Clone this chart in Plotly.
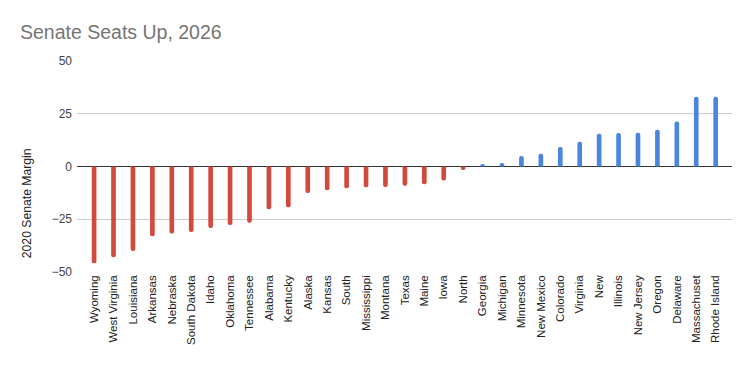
import plotly.graph_objects as go

states = ["Wyoming", "West Virginia", "Louisiana", "Arkansas", "Nebraska", "South Dakota",
          "Idaho", "Oklahoma", "Tennessee", "Alabama", "Kentucky", "Alaska", "Kansas", "South",
          "Mississippi", "Montana", "Texas", "Maine", "Iowa", "North", "Georgia", "Michigan",
          "Minnesota", "New Mexico", "Colorado", "Virginia", "New", "Illinois", "New Jersey",
          "Oregon", "Delaware", "Massachuset", "Rhode Island"]
margins = [-45.8, -43.0, -40.1, -33.1, -31.7, -31.0, -29.1, -27.7, -26.6, -20.3, -19.3,
           -12.6, -11.3, -10.3, -9.8, -9.7, -9.1, -8.4, -6.6, -1.6, 1.2, 1.6, 5.0, 6.0,
           9.2, 11.7, 15.5, 15.9, 16.0, 17.4, 21.3, 33.0, 33.0]

RED = "#d24a3e"
BLUE = "#4a86e0"
colors = [RED if v < 0 else BLUE for v in margins]

fig = go.Figure(go.Bar(
    x=states, y=margins, marker=dict(color=colors, line=dict(width=0)),
    width=0.24, hoverinfo="x+y",
))

font = "Liberation Sans, Arial, sans-serif"
fig.update_layout(
    width=750, height=371,
    margin=dict(l=77, r=18, t=61, b=99, autoexpand=False),
    paper_bgcolor="white", plot_bgcolor="white",
    barcornerradius=3,
    showlegend=False,
    font=dict(family=font, size=11, color="#444444"),
    title=dict(text="Senate Seats Up, 2026", x=20/750, xanchor="left", y=1 - 32/371,
               yanchor="middle", font=dict(family=font, size=19.5, color="#757575")),
    xaxis=dict(range=[-0.88, 32.84], tickangle=-90, showgrid=False, zeroline=False,
               showline=False, ticks="", tickfont=dict(size=11.5, color="#222222"),
               automargin=False, fixedrange=True),
    yaxis=dict(range=[-50, 50], tickvals=[-50, -25, 0, 25, 50], showgrid=True,
               gridcolor="#cccccc", gridwidth=1, zeroline=True, zerolinecolor="#333333",
               zerolinewidth=1, ticks="", tickfont=dict(size=12, color="#444444"),
               ticklabelstandoff=4, automargin=False, fixedrange=True),
    annotations=[dict(text="2020 Senate Margin", textangle=-90, xref="paper", yref="paper",
                      x=(27 - 77) / 655, y=(271.7 - 203) / 210.7, showarrow=False,
                      xanchor="center", yanchor="middle",
                      font=dict(family=font, size=12.2, color="#222222"))],
)

fig.write_html("out.html", config={"displayModeBar": False},
               post_script="document.body.style.margin='0';document.body.style.overflow='hidden';")
